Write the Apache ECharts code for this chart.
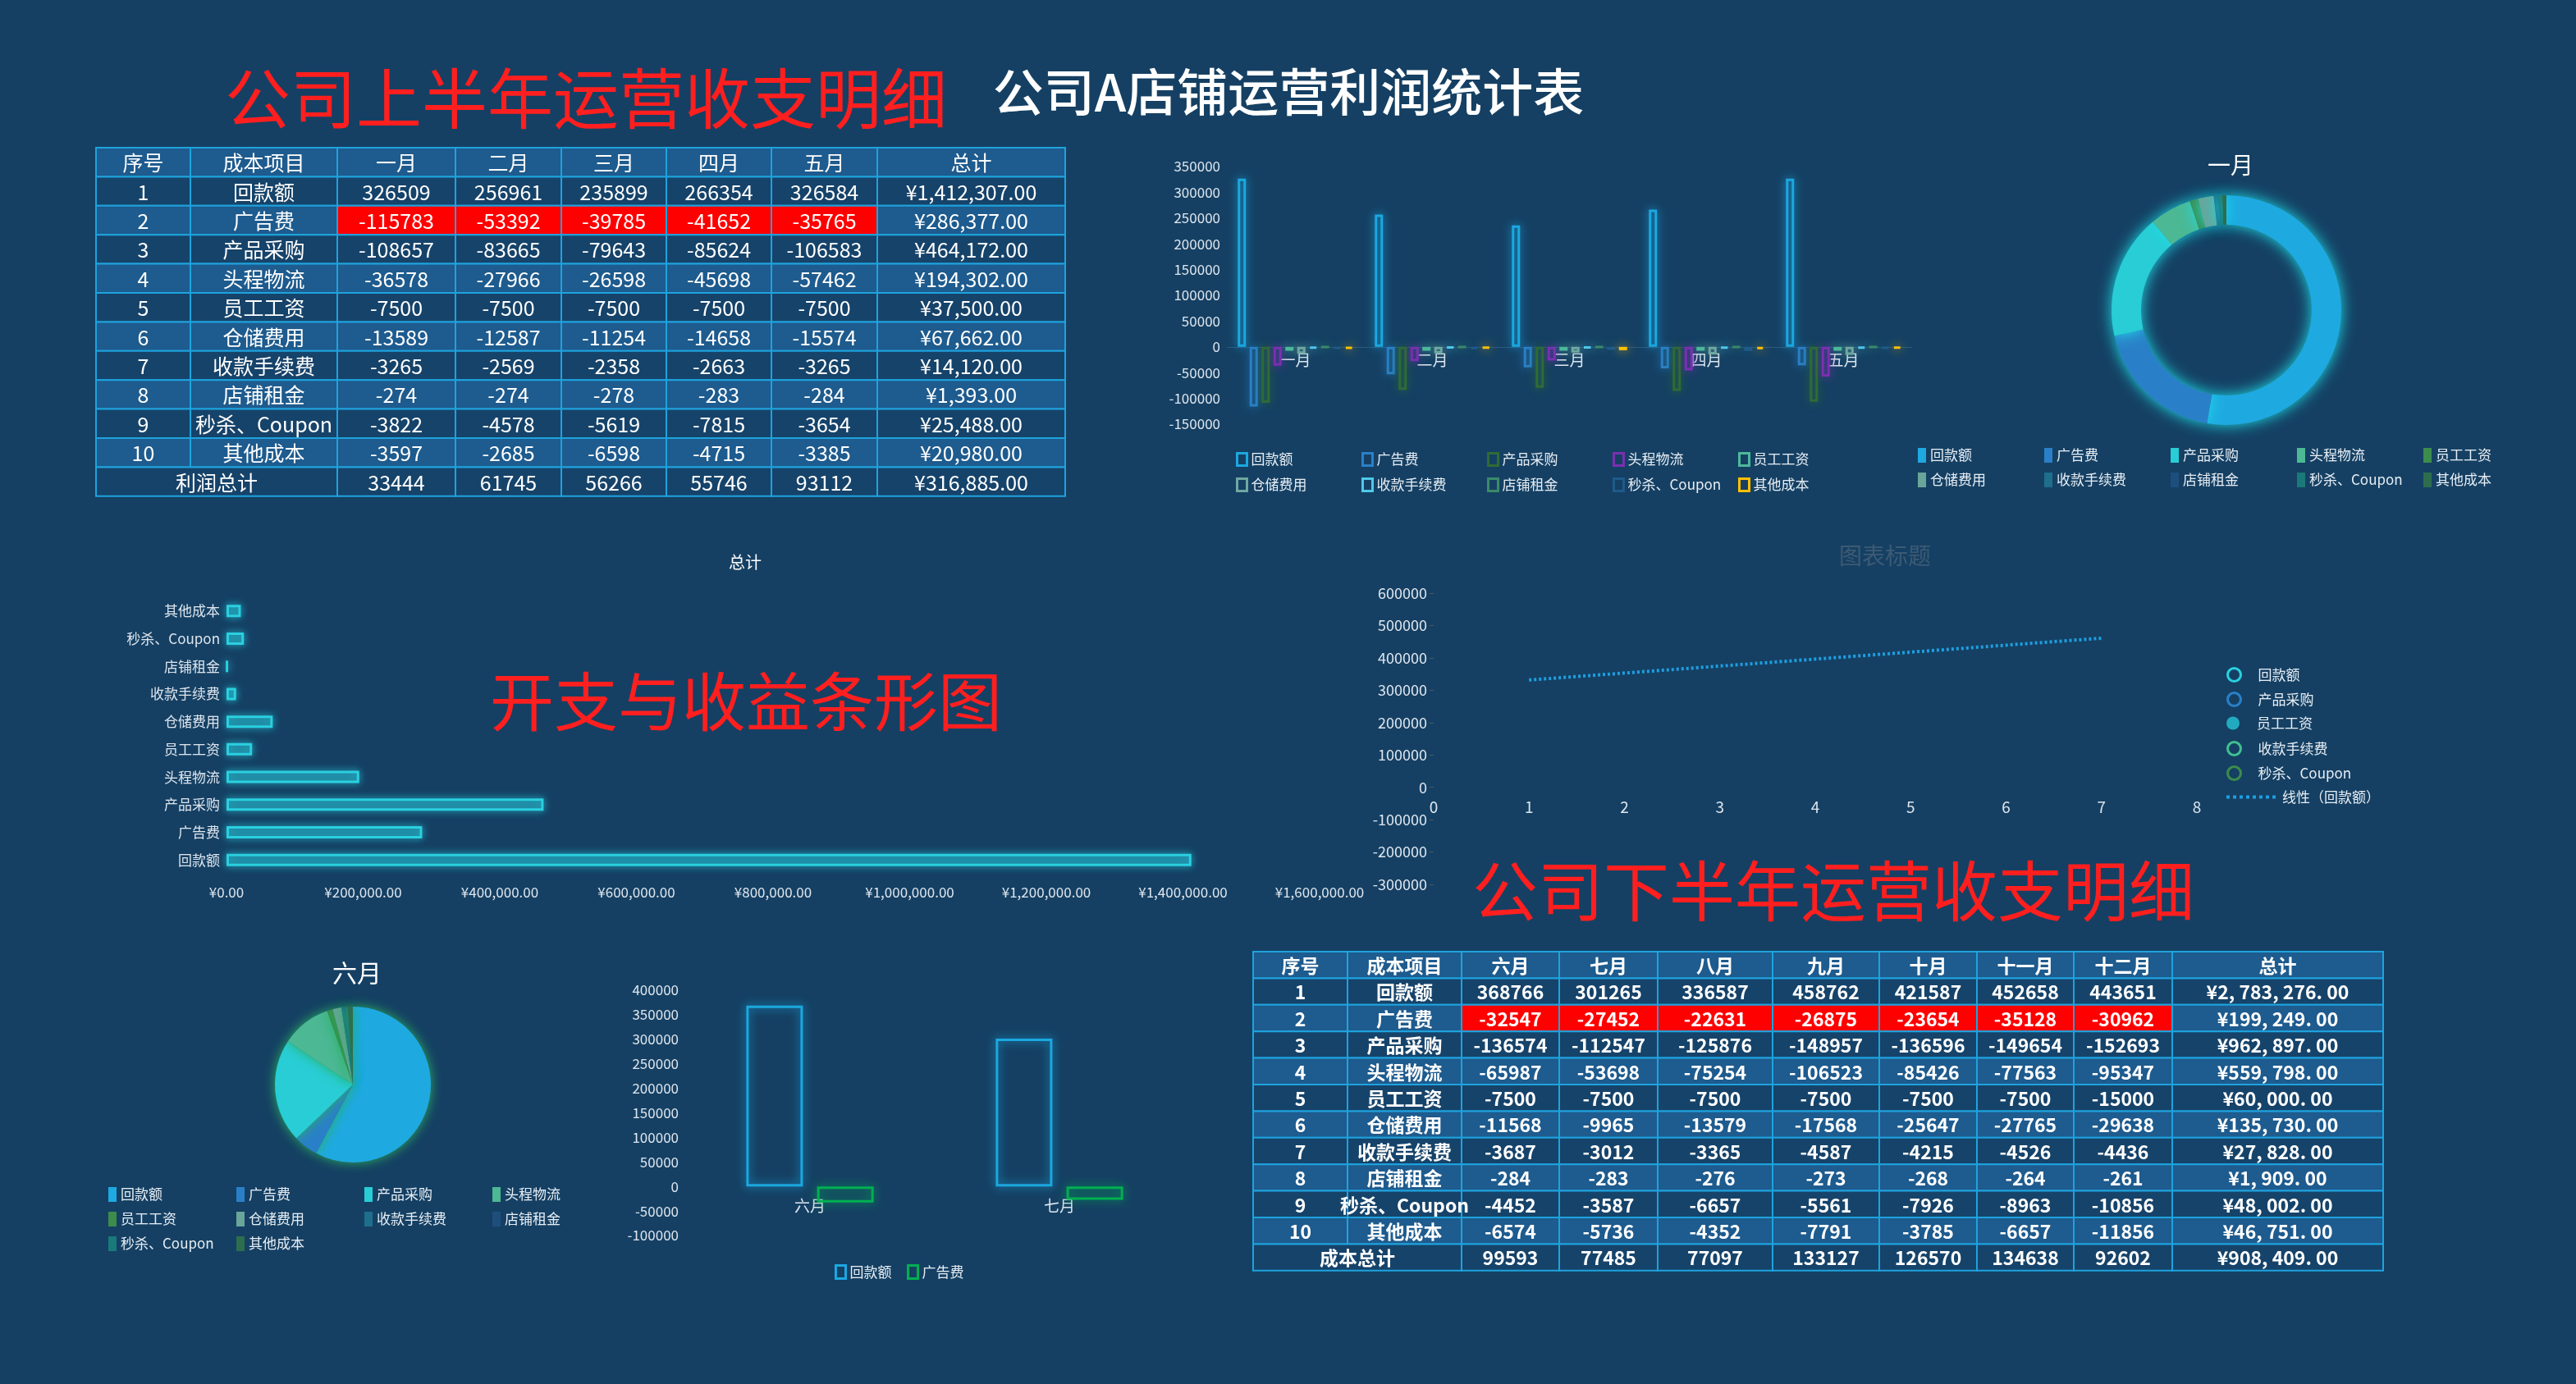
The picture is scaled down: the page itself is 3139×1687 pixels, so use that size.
<!DOCTYPE html>
<html><head><meta charset="utf-8">
<script src="https://cdn.jsdelivr.net/npm/echarts@6/dist/echarts.min.js"></script>
<style>html,body{margin:0;padding:0;background:#154063;}#c{width:3139px;height:1687px;}</style>
</head><body><div id="c"></div>
<script>
const items = ['回款额','广告费','产品采购','头程物流','员工工资','仓储费用','收款手续费','店铺租金','秒杀、Coupon','其他成本'];
const h1Months = ['一月','二月','三月','四月','五月'];
const h1Rows = [
 [326509,256961,235899,266354,326584],
 [-115783,-53392,-39785,-41652,-35765],
 [-108657,-83665,-79643,-85624,-106583],
 [-36578,-27966,-26598,-45698,-57462],
 [-7500,-7500,-7500,-7500,-7500],
 [-13589,-12587,-11254,-14658,-15574],
 [-3265,-2569,-2358,-2663,-3265],
 [-274,-274,-278,-283,-284],
 [-3822,-4578,-5619,-7815,-3654],
 [-3597,-2685,-6598,-4715,-3385]
];
const h1Totals = ['¥1,412,307.00','¥286,377.00','¥464,172.00','¥194,302.00','¥37,500.00','¥67,662.00','¥14,120.00','¥1,393.00','¥25,488.00','¥20,980.00'];
const h1TotalVals = [1412307,286377,464172,194302,37500,67662,14120,1393,25488,20980];
const h1Profit = [33444,61745,56266,55746,93112];
const h1ProfitTotal = '¥316,885.00';

const h2Months = ['六月','七月','八月','九月','十月','十一月','十二月'];
const h2Rows = [
 [368766,301265,336587,458762,421587,452658,443651],
 [-32547,-27452,-22631,-26875,-23654,-35128,-30962],
 [-136574,-112547,-125876,-148957,-136596,-149654,-152693],
 [-65987,-53698,-75254,-106523,-85426,-77563,-95347],
 [-7500,-7500,-7500,-7500,-7500,-7500,-15000],
 [-11568,-9965,-13579,-17568,-25647,-27765,-29638],
 [-3687,-3012,-3365,-4587,-4215,-4526,-4436],
 [-284,-283,-276,-273,-268,-264,-261],
 [-4452,-3587,-6657,-5561,-7926,-8963,-10856],
 [-6574,-5736,-4352,-7791,-3785,-6657,-11856]
];
const h2Totals = ['¥2, 783, 276. 00','¥199, 249. 00','¥962, 897. 00','¥559, 798. 00','¥60, 000. 00','¥135, 730. 00','¥27, 828. 00','¥1, 909. 00','¥48, 002. 00','¥46, 751. 00'];
const h2Cost = [99593,77485,77097,133127,126570,134638,92602];
const h2CostTotal = '¥908, 409. 00';

const scatterLegend = ['回款额','产品采购','员工工资','收款手续费','秒杀、Coupon'];
const trendName = '线性（回款额）';
const trendX = [1,7];
const trendY = [331600,460800];
const juneBarCats = ['六月','七月'];
const juneBarNames = ['回款额 ','广告费 '];

const barColors = ['#1ba8e0','#2a80c8','#2f6b35','#7b2fb0','#4cb89a','#6fa8a0','#4fc8e8','#3a8a6a','#1f5a8a','#ffc000'];
const pieColors = ['#1fa9e1','#2a80c8','#29cdd5','#4cb894','#3c8c4c','#6aa59a','#1e6e8c','#1e4e7c','#1a7a7a','#2e6e4e'];
const scatterColors = ['#2ad0e0','#2a80c8','#23aabf','#40c090','#3c8c4c'];
const FONT = '"Noto Sans CJK SC", "Noto Sans", sans-serif';

const chart = echarts.init(document.getElementById('c'));
const graphic = [];
function txt(x,y,text,size,color,weight,align){
  graphic.push({type:'text',x:x,y:y,z:10,style:{text:text,fill:color,font:(weight||'normal')+' '+size+'px '+FONT,align:align||'center',verticalAlign:'middle'}});
}
function table(cols,y0,rh,header,rows,footerLabel,footerVals,footerTotal,size,weight){
  const nR = rows.length+2;
  for(let r=0;r<nR;r++){
    let cells;
    if(r===0) cells = header.map((t)=>({t:t}));
    else if(r===nR-1) cells = [{t:footerLabel,span:2}].concat(footerVals.map(v=>({t:String(v)}))).concat([{t:footerTotal}]);
    else cells = rows[r-1];
    const light = (r===0) || (r>0 && r<nR-1 && (r%2===0));
    let ci=0;
    cells.forEach(c=>{
      const span=c.span||1;
      const x1=cols[ci], x2=cols[ci+span];
      let fill = light?'#1e5b8e':'#16436a';
      if(c.red) fill='#ff0000';
      graphic.push({type:'rect',z:5,shape:{x:x1,y:y0+r*rh,width:x2-x1,height:rh},style:{fill:fill,stroke:'#1ea3dd',lineWidth:2}});
      txt((x1+x2)/2,y0+r*rh+rh/2+1,c.t,size,'#ffffff',weight);
      ci+=span;
    });
  }
}
function mkRows(rows,totals){
  return rows.map((row,i)=>[{t:String(i+1)},{t:items[i]}].concat(row.map(v=>({t:String(v),red:i===1}))).concat([{t:totals[i]}]));
}
table([117,232,411,555,684,812,940,1069,1298],180,35.4,['序号','成本项目'].concat(h1Months).concat(['总计']),mkRows(h1Rows,h1Totals),'利润总计',h1Profit,h1ProfitTotal,25,'normal');
table([1527,1642,1781,1900,2020,2160,2290,2409,2527,2647,2904],1160,32.4,['序号','成本项目'].concat(h2Months).concat(['总计']),mkRows(h2Rows,h2Totals),'成本总计',h2Cost,h2CostTotal,23,'bold');

txt(714,120,'公司上半年运营收支明细',80,'#ff1f1f');
txt(1570,112,'公司A店铺运营利润统计表',62,'#ffffff','500');
txt(909,855,'开支与收益条形图',78,'#ff1f1f');
txt(2234,1086,'公司下半年运营收支明细',80,'#ff1f1f');

const axisLbl = {color:'#dde5ee',fontSize:17,fontFamily:FONT,formatter:v=>String(v)};
const hollow = c => ({color:'rgba(0,0,0,0)',borderColor:c,borderWidth:3,shadowBlur:12,shadowColor:c});

const series = [];
items.forEach((n,i)=>series.push({type:'bar',name:n,xAxisIndex:0,yAxisIndex:0,data:h1Rows[i],barWidth:10,barGap:'45%',barCategoryGap:'16%',
  itemStyle: hollow(barColors[i])}));
series.push({type:'pie',name:'一月',center:[2713,378],radius:[104,140],startAngle:90,label:{show:false},labelLine:{show:false},
  itemStyle:{shadowBlur:18,shadowColor:'#1ee0e8'},
  data:items.map((n,i)=>({name:n,value:Math.abs(h1Rows[i][0]),itemStyle:{color:pieColors[i]}}))});
series.push({type:'bar',name:'总计',xAxisIndex:1,yAxisIndex:1,data:h1TotalVals,barWidth:15,
  itemStyle:{color:'rgba(42,208,224,0.25)',borderColor:'#2ad0e0',borderWidth:3,shadowBlur:10,shadowColor:'#2ad0e0'}});
scatterLegend.forEach((n,i)=>series.push({type:'scatter',name:n,xAxisIndex:2,yAxisIndex:2,data:[],symbol:'circle'}));
series.push({type:'line',name:trendName,xAxisIndex:2,yAxisIndex:2,data:trendX.map((x,i)=>[x,trendY[i]]),symbol:'none',
  lineStyle:{color:'#1e9ee0',width:4,type:[3,3]}});
series.push({type:'pie',name:'六月',center:[430,1322],radius:95,startAngle:90,label:{show:false},labelLine:{show:false},
  itemStyle:{shadowBlur:14,shadowColor:'#2ab060'},
  data:items.map((n,i)=>({name:n,value:Math.abs(h2Rows[i][0]),itemStyle:{color:pieColors[i]}}))});
series.push({type:'bar',name:juneBarNames[0],xAxisIndex:3,yAxisIndex:3,data:h2Rows[0].slice(0,2),barWidth:69,barGap:'25%',barCategoryGap:'49%',itemStyle:hollow('#1ba8e0')});
series.push({type:'bar',name:juneBarNames[1],xAxisIndex:3,yAxisIndex:3,data:h2Rows[1].slice(0,2),barWidth:69,itemStyle:hollow('#00b050')});

const legTxt = {color:'#e6edf4',fontSize:17,fontFamily:FONT};
const legends = [];
function legendGrid(entries,x0,y0,dx,dy,perRow,iw,ih){
  entries.forEach((e,i)=>{
    legends.push({data:[e],left:x0+(i%perRow)*dx,top:y0+Math.floor(i/perRow)*dy,itemWidth:iw,itemHeight:ih,itemGap:4,textStyle:legTxt,selectedMode:false});
  });
}
legendGrid(items.map((n,i)=>({name:n,icon:'rect',itemStyle:{color:'rgba(0,0,0,0)',borderColor:barColors[i],borderWidth:3}})),1501,546,153,31,5,12,15);
legendGrid(items.map((n,i)=>({name:n,icon:'rect',itemStyle:{color:pieColors[i],borderWidth:0}})),2332,541,154,30,5,10,18);
legendGrid(items.map((n,i)=>({name:n,icon:'rect',itemStyle:{color:pieColors[i],borderWidth:0}})),127,1442,156,30,4,10,18);
legendGrid(scatterLegend.map((n,i)=>({name:n,icon:'circle',itemStyle:i===2?{color:scatterColors[i],borderWidth:0}:{color:'rgba(0,0,0,0)',borderColor:scatterColors[i],borderWidth:3}})),2708,808,0,30,1,48,16);
legends.push({data:[{name:trendName,icon:'path://M0,0h2v2h-2zM4,0h2v2h-2zM8,0h2v2h-2zM12,0h2v2h-2zM16,0h2v2h-2zM20,0h2v2h-2zM24,0h2v2h-2zM28,0h2v2h-2z',itemStyle:{color:'#1e9ee0'}}],left:2708,top:958,itemWidth:66,itemHeight:4,itemGap:8,textStyle:legTxt,selectedMode:false});
legendGrid(juneBarNames.map((n,i)=>({name:n,icon:'rect',itemStyle:{color:'rgba(0,0,0,0)',borderColor:['#1ba8e0','#00b050'][i],borderWidth:3}})),1012,1536,88,0,2,12,16);

// grid geometry
const G0 = {left:1495,top:203,width:835,height:314, min:-150000, max:350000};
const G2 = {left:1747,top:723,width:930,height:355, min:-300000, max:600000};
const G3 = {left:835,top:1207,width:608,height:299, min:-100000, max:400000};
const zeroOff = g => -Math.round(g.height * (-g.min)/(g.max-g.min));

chart.setOption({
  backgroundColor:'#154063',
  animation:false,
  textStyle:{fontFamily:FONT},
  graphic:graphic,
  title:[
    {text:'一月',left:2713,top:182,textAlign:'center',textStyle:{color:'#ffffff',fontSize:28,fontWeight:'normal'}},
    {text:'总计',left:903,top:670,textAlign:'center',textStyle:{color:'#ffffff',fontSize:20,fontWeight:'normal'}},
    {text:'图表标题',left:2292,top:658,textAlign:'center',textStyle:{color:'#3d5a74',fontSize:28,fontWeight:'normal'}},
    {text:'六月',left:430,top:1166,textAlign:'center',textStyle:{color:'#ffffff',fontSize:30,fontWeight:'normal'}}
  ],
  grid:[
    {left:G0.left,top:G0.top,width:G0.width,height:G0.height},
    {left:276,top:728,width:1332,height:337},
    {left:G2.left,top:G2.top,width:G2.width,height:G2.height},
    {left:G3.left,top:G3.top,width:G3.width,height:G3.height}
  ],
  xAxis:[
    {gridIndex:0,type:'category',data:h1Months,position:'bottom',offset:zeroOff(G0),axisTick:{show:false},axisLine:{onZero:false,lineStyle:{color:'#2a5a80'}},axisLabel:Object.assign({},axisLbl,{fontSize:19,margin:6})},
    {gridIndex:1,type:'value',min:0,max:1600000,interval:200000,splitLine:{show:false},axisLine:{show:false},axisTick:{show:false},axisLabel:Object.assign({},axisLbl,{formatter:v=>'¥'+v.toLocaleString('en-US')+'.00',margin:14})},
    {gridIndex:2,type:'value',min:0,max:8,interval:1,position:'bottom',offset:zeroOff(G2),splitLine:{show:false},axisLine:{show:false,onZero:false},axisTick:{show:false},axisLabel:Object.assign({},axisLbl,{fontSize:19,margin:14})},
    {gridIndex:3,type:'category',data:juneBarCats,position:'bottom',offset:zeroOff(G3),axisTick:{show:false},axisLine:{show:false,onZero:false},axisLabel:Object.assign({},axisLbl,{fontSize:19,margin:14})}
  ],
  yAxis:[
    {gridIndex:0,type:'value',min:G0.min,max:G0.max,interval:50000,splitLine:{show:false},axisLine:{show:false},axisLabel:axisLbl},
    {gridIndex:1,type:'category',data:items,axisTick:{show:false},axisLine:{show:false},axisLabel:Object.assign({},axisLbl,{formatter:null})},
    {gridIndex:2,type:'value',min:G2.min,max:G2.max,interval:100000,splitLine:{show:false},axisLine:{show:false},axisLabel:Object.assign({},axisLbl,{fontSize:18})},
    {gridIndex:3,type:'value',min:G3.min,max:G3.max,interval:50000,splitLine:{show:false},axisLine:{show:false},axisLabel:axisLbl}
  ],
  legend:legends,
  series:series
});
</script></body></html>
